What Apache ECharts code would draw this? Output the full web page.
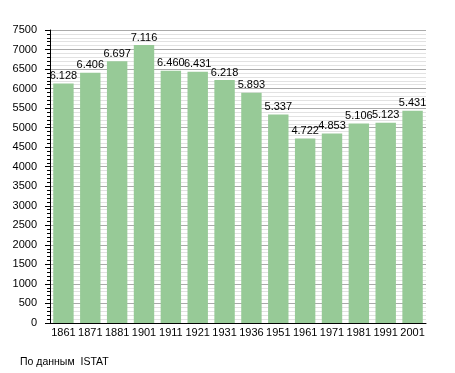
<!DOCTYPE html>
<html><head><meta charset="utf-8">
<script src="https://cdn.jsdelivr.net/npm/echarts@6/dist/echarts.min.js"></script>
<style>html,body{margin:0;padding:0;background:#fff}#c{width:455px;height:373px}</style>
</head><body><div id="c"></div>
<script>
const years = ['1861','1871','1881','1901','1911','1921','1931','1936','1951','1961','1971','1981','1991','2001'];
const population = [6128,6406,6697,7116,6460,6431,6218,5893,5337,4722,4853,5106,5123,5431];
const sourceText = 'По данным  ISTAT';
const fmt = v => { const s = String(v); return s.length > 3 ? s.slice(0, s.length-3) + '.' + s.slice(-3) : s; };
const chart = echarts.init(document.getElementById('c'), null, {renderer:'canvas'});
const font = 'Liberation Sans, Arial, sans-serif';
chart.setOption({
  animation:false,
  textStyle:{fontFamily:font},
  grid:{left:50,right:29,top:30,bottom:50,containLabel:false},
  graphic:[{type:'text',left:20,top:357,style:{text:sourceText,fontSize:10.5,fontFamily:font,fill:'#000'}}],
  xAxis:{type:'category',data:years,
    axisLine:{show:true,lineStyle:{color:'#000',width:1}},
    axisTick:{show:false},
    axisLabel:{color:'#000',fontSize:11,margin:4,fontFamily:font,interval:0},
    splitLine:{show:false}},
  yAxis:{type:'value',min:0,max:7500,interval:500,
    axisLine:{show:true,lineStyle:{color:'#000',width:1}},
    axisTick:{show:true,length:5,lineStyle:{color:'#000'}},
    minorTick:{show:true,splitNumber:5,length:3,lineStyle:{color:'#000'}},
    axisLabel:{color:'#000',fontSize:11,margin:13,fontFamily:font,formatter:v=>String(v)},
    splitLine:{show:true,lineStyle:{color:'#aaaaaa',width:1}},
    minorSplitLine:{show:true,lineStyle:{color:'#e2e2e2',width:1}}},
  series:[{type:'bar',data:population,barCategoryGap:'24%',
    itemStyle:{color:'#97ca97'},
    label:{show:true,position:'top',distance:2,color:'#000',fontSize:11,fontFamily:font,formatter:p=>fmt(p.value)}}]
});
</script></body></html>
